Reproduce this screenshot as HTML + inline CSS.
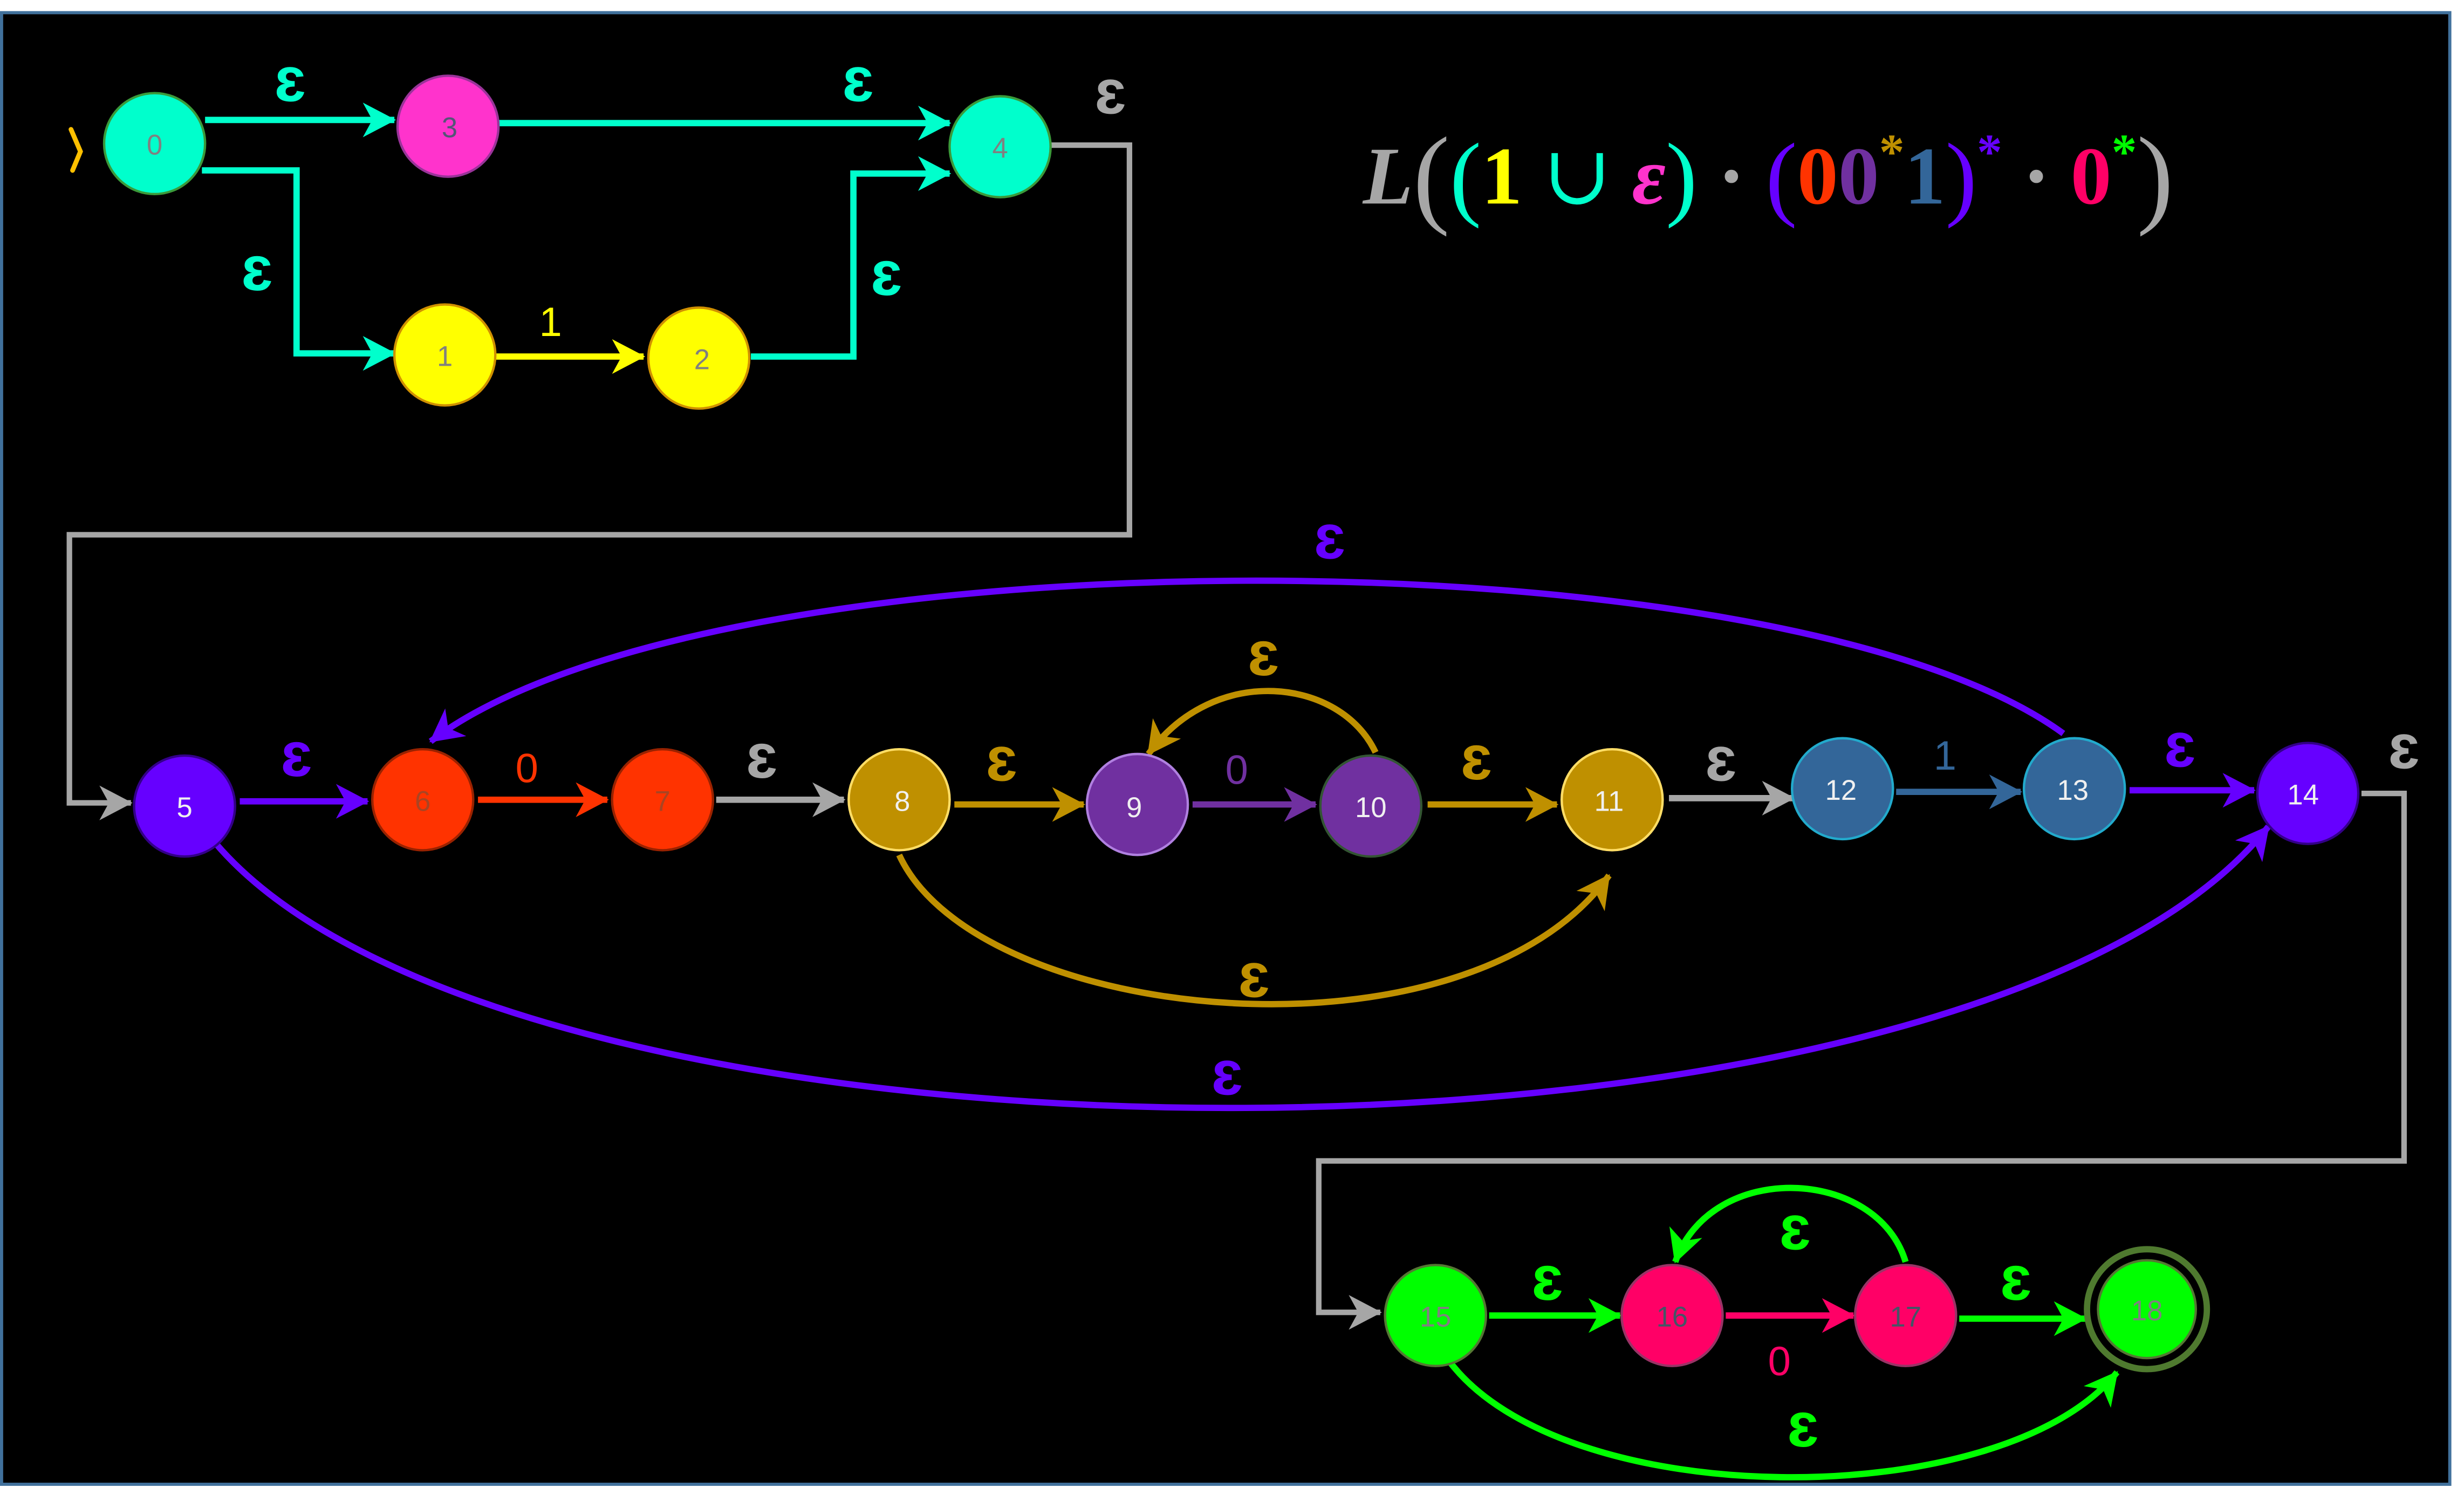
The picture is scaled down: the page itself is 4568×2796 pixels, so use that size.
<!DOCTYPE html>
<html><head><meta charset="utf-8"><style>
html,body{margin:0;padding:0;background:#fff;}
svg{display:block;}
.e{font-family:"Liberation Sans","DejaVu Sans",sans-serif;font-weight:bold;font-size:40px;text-anchor:middle;}
.n{font-family:"Liberation Sans","DejaVu Sans",sans-serif;font-size:18px;text-anchor:middle;}
</style></head><body>
<svg width="4568" height="2796" viewBox="0 0 1562 956" xmlns="http://www.w3.org/2000/svg">
<defs>
<marker id="mc" markerUnits="userSpaceOnUse" markerWidth="24" markerHeight="24" refX="20" refY="11" orient="auto"><path d="M0,0 L21,11 L0,22 L6,11 z" fill="#00ffcc"/></marker>
<marker id="my" markerUnits="userSpaceOnUse" markerWidth="24" markerHeight="24" refX="20" refY="11" orient="auto"><path d="M0,0 L21,11 L0,22 L6,11 z" fill="#ffff00"/></marker>
<marker id="mg" markerUnits="userSpaceOnUse" markerWidth="24" markerHeight="24" refX="20" refY="11" orient="auto"><path d="M0,0 L21,11 L0,22 L6,11 z" fill="#a6a6a6"/></marker>
<marker id="mp" markerUnits="userSpaceOnUse" markerWidth="24" markerHeight="24" refX="20" refY="11" orient="auto"><path d="M0,0 L21,11 L0,22 L6,11 z" fill="#6600ff"/></marker>
<marker id="mr" markerUnits="userSpaceOnUse" markerWidth="24" markerHeight="24" refX="20" refY="11" orient="auto"><path d="M0,0 L21,11 L0,22 L6,11 z" fill="#ff3300"/></marker>
<marker id="mo" markerUnits="userSpaceOnUse" markerWidth="24" markerHeight="24" refX="20" refY="11" orient="auto"><path d="M0,0 L21,11 L0,22 L6,11 z" fill="#bf9000"/></marker>
<marker id="mv" markerUnits="userSpaceOnUse" markerWidth="24" markerHeight="24" refX="20" refY="11" orient="auto"><path d="M0,0 L21,11 L0,22 L6,11 z" fill="#7030a0"/></marker>
<marker id="mb" markerUnits="userSpaceOnUse" markerWidth="24" markerHeight="24" refX="20" refY="11" orient="auto"><path d="M0,0 L21,11 L0,22 L6,11 z" fill="#336699"/></marker>
<marker id="mG" markerUnits="userSpaceOnUse" markerWidth="24" markerHeight="24" refX="20" refY="11" orient="auto"><path d="M0,0 L21,11 L0,22 L6,11 z" fill="#00ff00"/></marker>
<marker id="mk" markerUnits="userSpaceOnUse" markerWidth="24" markerHeight="24" refX="20" refY="11" orient="auto"><path d="M0,0 L21,11 L0,22 L6,11 z" fill="#ff0066"/></marker>
</defs>
<rect x="0" y="0" width="1562" height="956" fill="#fff"/>
<rect x="1" y="8" width="1552" height="933" fill="#000" stroke="#41719c" stroke-width="2"/>

<g fill="none" stroke-width="4">
<line x1="130" y1="76" x2="250" y2="76" stroke="#00ffcc" marker-end="url(#mc)"/>
<line x1="316" y1="78" x2="602" y2="78" stroke="#00ffcc" marker-end="url(#mc)"/>
<path d="M128,108 H188 V224 H250" stroke="#00ffcc" marker-end="url(#mc)"/>
<line x1="314" y1="226" x2="408" y2="226" stroke="#ffff00" marker-end="url(#my)"/>
<path d="M476,226 H541 V110 H602" stroke="#00ffcc" marker-end="url(#mc)"/>
<path d="M666,92 H716 V339 H44 V509 H83" stroke="#a6a6a6" stroke-width="3.5" marker-end="url(#mg)"/>
<line x1="152" y1="508" x2="233" y2="508" stroke="#6600ff" marker-end="url(#mp)"/>
<line x1="303" y1="507" x2="385" y2="507" stroke="#ff3300" marker-end="url(#mr)"/>
<line x1="454" y1="507" x2="535" y2="507" stroke="#a6a6a6" marker-end="url(#mg)"/>
<line x1="605" y1="510" x2="687" y2="510" stroke="#bf9000" marker-end="url(#mo)"/>
<line x1="756" y1="510" x2="834" y2="510" stroke="#7030a0" marker-end="url(#mv)"/>
<path d="M872,477 C850,430 770,420 728,478" stroke="#bf9000" marker-end="url(#mo)"/>
<line x1="905" y1="510" x2="987" y2="510" stroke="#bf9000" marker-end="url(#mo)"/>
<path d="M570,542 C620,650 930,680 1020,555" stroke="#bf9000" marker-end="url(#mo)"/>
<line x1="1058" y1="506" x2="1137" y2="506" stroke="#a6a6a6" marker-end="url(#mg)"/>
<line x1="1202" y1="502" x2="1281" y2="502" stroke="#336699" marker-end="url(#mb)"/>
<path d="M1308,465 C1130,335 450,335 273,470" stroke="#6600ff" marker-end="url(#mp)"/>
<line x1="1350" y1="501" x2="1429" y2="501" stroke="#6600ff" marker-end="url(#mp)"/>
<path d="M137,535 C330,760 1250,760 1438,524" stroke="#6600ff" marker-end="url(#mp)"/>
<path d="M1497,503 H1524 V736 H836 V832 H875" stroke="#a6a6a6" stroke-width="3.5" marker-end="url(#mg)"/>
<line x1="944" y1="834" x2="1027" y2="834" stroke="#00ff00" marker-end="url(#mG)"/>
<line x1="1094" y1="834" x2="1175" y2="834" stroke="#ff0066" marker-end="url(#mk)"/>
<path d="M1208,800 C1190,740 1085,735 1062,800" stroke="#00ff00" marker-end="url(#mG)"/>
<line x1="1242" y1="836" x2="1322" y2="836" stroke="#00ff00" marker-end="url(#mG)"/>
<path d="M918,862 C990,960 1270,960 1342,870" stroke="#00ff00" marker-end="url(#mG)"/>
</g>
<path d="M45,82 L51,96 L46,108" fill="none" stroke="#ffc000" stroke-width="3" stroke-linecap="round"/>

<g stroke-width="1.5">
<circle cx="98" cy="91" r="32" fill="#00ffcc" stroke="#3a9a3a"/>
<circle cx="284" cy="80" r="32" fill="#ff33cc" stroke="#993399"/>
<circle cx="634" cy="93" r="32" fill="#00ffcc" stroke="#3a9a3a"/>
<circle cx="282" cy="225" r="32" fill="#ffff00" stroke="#d09000"/>
<circle cx="443" cy="227" r="32" fill="#ffff00" stroke="#d09000"/>
<circle cx="117" cy="511" r="32" fill="#6600ff" stroke="#330088"/>
<circle cx="268" cy="507" r="32" fill="#ff3300" stroke="#992200"/>
<circle cx="420" cy="507" r="32" fill="#ff3300" stroke="#992200"/>
<circle cx="570" cy="507" r="32" fill="#bf9000" stroke="#ffdd66"/>
<circle cx="721" cy="510" r="32" fill="#7030a0" stroke="#b080e0"/>
<circle cx="869" cy="511" r="32" fill="#7030a0" stroke="#335533"/>
<circle cx="1022" cy="507" r="32" fill="#bf9000" stroke="#ffdd66"/>
<circle cx="1168" cy="500" r="32" fill="#336699" stroke="#22aacc"/>
<circle cx="1315" cy="500" r="32" fill="#336699" stroke="#22aacc"/>
<circle cx="1463" cy="503" r="32" fill="#6600ff" stroke="#330088"/>
<circle cx="910" cy="834" r="32" fill="#00ff00" stroke="#557733"/>
<circle cx="1060" cy="834" r="32" fill="#ff0066" stroke="#993366"/>
<circle cx="1208" cy="834" r="32" fill="#ff0066" stroke="#993366"/>
<circle cx="1361" cy="830" r="38" fill="none" stroke="#4f7a2f" stroke-width="4"/>
<circle cx="1361" cy="830" r="31" fill="#00ff00" stroke="#557733"/>
</g>
<g class="n" fill="#808080">
<text x="98" y="98">0</text><text x="285" y="87" fill="#555577">3</text><text x="634" y="100">4</text>
<text x="282" y="232">1</text><text x="445" y="234">2</text>
<text x="268" y="514" fill="#aa4422">6</text><text x="420" y="514" fill="#aa4422">7</text>
<text x="910" y="841">15</text><text x="1060" y="841" fill="#445566">16</text><text x="1208" y="841" fill="#445566">17</text><text x="1361" y="837">18</text>
</g>
<g class="n" fill="#f0f0f0">
<text x="117" y="518">5</text><text x="572" y="514">8</text><text x="719" y="518">9</text><text x="869" y="518">10</text><text x="1020" y="514">11</text>
<text x="1167" y="507">12</text><text x="1314" y="507">13</text><text x="1460" y="510">14</text>
</g>

<g class="e">
<text x="184" y="64" fill="#00ffcc">ɛ</text>
<text x="544" y="64" fill="#00ffcc">ɛ</text>
<text x="163" y="184" fill="#00ffcc">ɛ</text>
<text x="562" y="187" fill="#00ffcc">ɛ</text>
<text x="704" y="72" fill="#a6a6a6">ɛ</text>
<text x="188" y="492" fill="#6600ff">ɛ</text>
<text x="483" y="493" fill="#a6a6a6">ɛ</text>
<text x="635" y="495" fill="#bf9000">ɛ</text>
<text x="801" y="428" fill="#bf9000">ɛ</text>
<text x="936" y="494" fill="#bf9000">ɛ</text>
<text x="795" y="632" fill="#bf9000">ɛ</text>
<text x="1091" y="495" fill="#a6a6a6">ɛ</text>
<text x="843" y="354" fill="#6600ff">ɛ</text>
<text x="1382" y="486" fill="#6600ff">ɛ</text>
<text x="778" y="694" fill="#6600ff">ɛ</text>
<text x="1524" y="487" fill="#a6a6a6">ɛ</text>
<text x="981" y="824" fill="#00ff00">ɛ</text>
<text x="1138" y="792" fill="#00ff00">ɛ</text>
<text x="1278" y="824" fill="#00ff00">ɛ</text>
<text x="1143" y="917" fill="#00ff00">ɛ</text>
</g>
<g class="n" style="font-size:26px">
<text x="349" y="213" fill="#ffff00">1</text>
<text x="334" y="496" fill="#ff3300">0</text>
<text x="784" y="497" fill="#7030a0">0</text>
<text x="1233" y="488" fill="#336699">1</text>
<text x="1128" y="872" fill="#ff0066">0</text>
</g>

<text x="864" y="129" font-family="'Liberation Serif','DejaVu Serif',serif" font-size="52" font-weight="bold">
<tspan fill="#a6a6a6" font-style="italic">L</tspan><tspan fill="#a6a6a6" font-weight="normal" font-size="70" dy="6">(</tspan><tspan fill="#00ffcc" font-weight="normal" font-size="60" dy="-3">(</tspan><tspan fill="#ffff00" dy="-3">1</tspan><tspan fill="#00ffcc" font-weight="normal"> ∪ </tspan><tspan fill="#ff33cc" font-style="italic">ε</tspan><tspan fill="#00ffcc" font-weight="normal" font-size="60" dy="3">)</tspan><tspan fill="#a6a6a6" dy="-3"> · </tspan><tspan fill="#6600ff" font-weight="normal" font-size="60" dy="3">(</tspan><tspan fill="#ff3300" dy="-3">0</tspan><tspan fill="#7030a0">0</tspan><tspan fill="#bf9000" font-size="32" dy="-22">*</tspan><tspan fill="#336699" dy="22">1</tspan><tspan fill="#6600ff" font-weight="normal" font-size="60" dy="3">)</tspan><tspan fill="#6600ff" font-size="32" dy="-25">*</tspan><tspan fill="#a6a6a6" dy="22"> · </tspan><tspan fill="#ff0066">0</tspan><tspan fill="#00ff00" font-size="32" dy="-22">*</tspan><tspan fill="#a6a6a6" font-weight="normal" font-size="70" dy="28">)</tspan>
</text>
</svg>
</body></html>
